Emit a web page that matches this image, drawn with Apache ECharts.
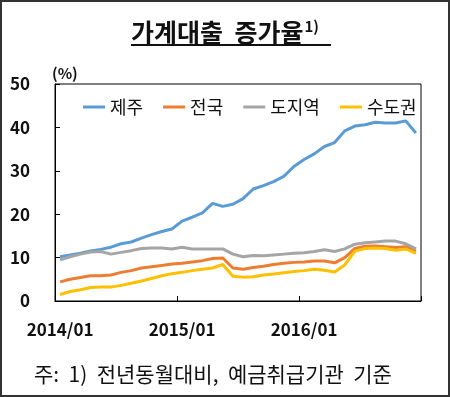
<!DOCTYPE html>
<html>
<head>
<meta charset="utf-8">
<script src="https://cdn.jsdelivr.net/npm/echarts@6/dist/echarts.min.js"></script>
<style>
  html, body { margin: 0; padding: 0; background: #fff; }
  #chart { width: 450px; height: 397px; }
</style>
</head>
<body>
<div id="chart"></div>
<script>
// 월 (2014/01 ~ 2016/12)
const months = [
  '2014/01', '2014/02', '2014/03', '2014/04', '2014/05', '2014/06',
  '2014/07', '2014/08', '2014/09', '2014/10', '2014/11', '2014/12',
  '2015/01', '2015/02', '2015/03', '2015/04', '2015/05', '2015/06',
  '2015/07', '2015/08', '2015/09', '2015/10', '2015/11', '2015/12',
  '2016/01', '2016/02', '2016/03', '2016/04', '2016/05', '2016/06',
  '2016/07', '2016/08', '2016/09', '2016/10', '2016/11', '2016/12'
];

// 가계대출 증가율 (%)
const jeju = [
  10.2, 10.6, 11.0, 11.5, 11.9, 12.4, 13.2, 13.6, 14.5, 15.3, 16.0, 16.6,
  18.4, 19.3, 20.3, 22.5, 21.8, 22.3, 23.6, 25.8, 26.6, 27.5, 28.7, 31.0,
  32.6, 33.9, 35.6, 36.5, 39.2, 40.3, 40.6, 41.2, 41.0, 41.0, 41.5, 38.7
];
const nation = [
  4.4, 5.0, 5.4, 5.8, 5.8, 6.0, 6.6, 7.0, 7.6, 7.9, 8.2, 8.5,
  8.7, 9.0, 9.3, 9.8, 9.9, 7.6, 7.3, 7.7, 8.0, 8.4, 8.7, 8.9,
  9.0, 9.2, 9.2, 8.8, 10.0, 12.1, 12.6, 12.7, 12.5, 12.3, 12.5, 11.5
];
const province = [
  9.5, 10.2, 10.8, 11.3, 11.4, 10.8, 11.2, 11.6, 12.1, 12.2, 12.2, 12.0,
  12.4, 12.0, 12.0, 12.0, 12.0, 10.8, 10.2, 10.5, 10.4, 10.6, 10.8, 11.0,
  11.1, 11.4, 11.8, 11.4, 12.0, 13.1, 13.4, 13.6, 13.8, 13.8, 13.2, 12.0
];
const capital = [
  1.5, 2.2, 2.6, 3.1, 3.2, 3.2, 3.6, 4.1, 4.6, 5.2, 5.8, 6.3,
  6.6, 7.0, 7.3, 7.6, 8.4, 5.7, 5.5, 5.6, 6.0, 6.2, 6.5, 6.8,
  7.0, 7.3, 7.1, 6.7, 8.3, 11.5, 12.1, 12.2, 12.1, 11.7, 12.0, 11.0
];

const FONT = '"Noto Sans CJK KR", "Noto Sans", sans-serif';

const chart = echarts.init(document.getElementById('chart'));

chart.setOption({
  animation: false,
  backgroundColor: '#fff',
  title: [
    {
      text: '{t|가계대출  증가율}{s|1)}',
      left: 'center',
      top: 14,
      textStyle: {
        rich: {
          t: { fontFamily: FONT, fontSize: 25, fontWeight: 'bold', color: '#111' },
          s: { fontFamily: FONT, fontSize: 15, fontWeight: 'bold', color: '#111', verticalAlign: 'top', padding: [0, 0, 12, 1] }
        }
      }
    },
    {
      text: '주:  1)  전년동월대비,  예금취급기관  기준',
      left: 29,
      top: 359,
      textStyle: { fontFamily: FONT, fontSize: 21, fontWeight: 'normal', color: '#111' }
    }
  ],
  legend: {
    left: 78,
    top: 93,
    icon: 'rect',
    itemWidth: 22,
    itemHeight: 3,
    itemGap: 20,
    textStyle: { fontFamily: FONT, fontSize: 18, color: '#111' },
    data: ['제주', '전국', '도지역', '수도권']
  },
  grid: {
    left: 55,
    right: 29,
    top: 84,
    bottom: 96,
    show: true,
    borderColor: '#000',
    borderWidth: 1
  },
  xAxis: {
    type: 'category',
    boundaryGap: true,
    data: months,
    axisLine: { lineStyle: { color: '#000', width: 1 } },
    axisTick: { show: true, inside: true, length: 5, interval: 11, lineStyle: { color: '#000' } },
    axisLabel: {
      interval: 11,
      margin: 20,
      fontFamily: FONT,
      fontSize: 17,
      fontWeight: 'bold',
      color: '#111'
    }
  },
  yAxis: {
    type: 'value',
    min: 0,
    max: 50,
    interval: 10,
    name: '(%)',
    nameLocation: 'end',
    nameGap: 3,
    nameTextStyle: { fontFamily: FONT, fontSize: 15, fontWeight: 'bold', color: '#111', align: 'left', padding: [0, 0, 0, -3] },
    axisLine: { show: true, lineStyle: { color: '#000', width: 1 } },
    axisTick: { show: true, inside: true, length: 5, lineStyle: { color: '#000' } },
    splitLine: { show: false },
    axisLabel: {
      margin: 25,
      fontFamily: FONT,
      fontSize: 17,
      fontWeight: 'bold',
      color: '#111'
    }
  },
  series: [
    { name: '제주', type: 'line', data: jeju, symbol: 'none', lineStyle: { width: 3, color: '#5B9BD5' }, itemStyle: { color: '#5B9BD5' } },
    { name: '전국', type: 'line', data: nation, symbol: 'none', lineStyle: { width: 3, color: '#ED7D31' }, itemStyle: { color: '#ED7D31' } },
    { name: '도지역', type: 'line', data: province, symbol: 'none', lineStyle: { width: 3, color: '#A5A5A5' }, itemStyle: { color: '#A5A5A5' } },
    { name: '수도권', type: 'line', data: capital, symbol: 'none', lineStyle: { width: 3, color: '#FFC000' }, itemStyle: { color: '#FFC000' } }
  ],
  graphic: [
    // 제목 밑줄
    { type: 'line', shape: { x1: 131, y1: 45, x2: 331, y2: 45 }, style: { stroke: '#111', lineWidth: 2 } },
    // 바깥 테두리
    { type: 'rect', shape: { x: 1, y: 1, width: 448, height: 395 }, style: { fill: 'none', stroke: '#333', lineWidth: 2 } }
  ]
});

window.addEventListener('resize', () => chart.resize());
</script>
</body>
</html>
